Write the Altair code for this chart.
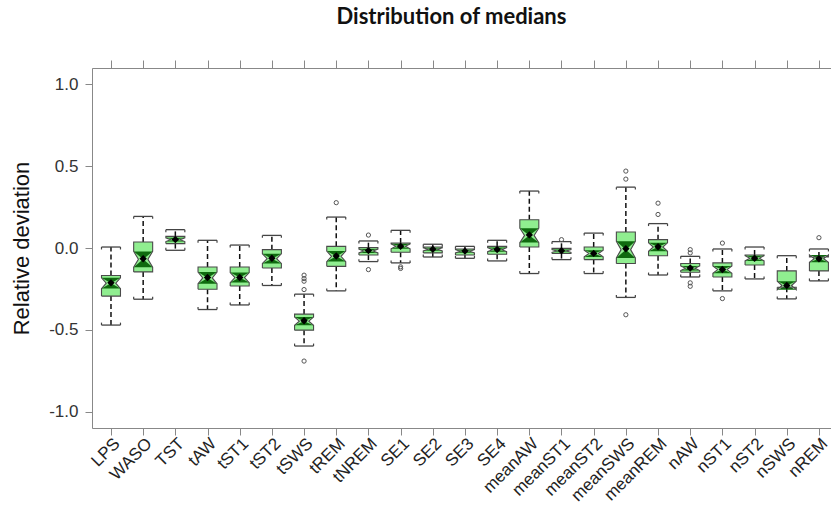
import math
import altair as alt
import pandas as pd

cats = ["LPS", "WASO", "TST", "tAW", "tST1", "tST2", "tSWS", "tREM", "tNREM",
        "SE1", "SE2", "SE3", "SE4", "meanAW", "meanST1", "meanST2", "meanSWS",
        "meanREM", "nAW", "nST1", "nST2", "nSWS", "nREM"]
whisk_hi = [0.006, 0.193, 0.112, 0.047, 0.018, 0.077, -0.282, 0.189, 0.043,
            0.108, 0.023, 0.010, 0.047, 0.348, 0.039, 0.091, 0.372,
            0.149, -0.051, -0.006, 0.006, -0.047, -0.006]
q3 = [-0.168, 0.037, 0.071, -0.116, -0.116, -0.010, -0.404, 0.010, 0.002,
      0.030, 0.006, -0.006, 0.010, 0.173, -0.002, 0.006, 0.098,
      0.051, -0.095, -0.091, -0.043, -0.140, -0.055]
med = [-0.215, -0.069, 0.051, -0.183, -0.181, -0.065, -0.447, -0.051, -0.018,
       0.010, -0.008, -0.020, -0.010, 0.077, -0.018, -0.034, -0.010,
       0.006, -0.124, -0.132, -0.063, -0.229, -0.065]
q1 = [-0.294, -0.146, 0.027, -0.252, -0.232, -0.122, -0.502, -0.112, -0.043,
      -0.026, -0.030, -0.043, -0.038, 0.006, -0.034, -0.071, -0.095,
      -0.047, -0.148, -0.177, -0.104, -0.240, -0.140]
whisk_lo = [-0.471, -0.313, -0.014, -0.376, -0.348, -0.229, -0.599, -0.262, -0.083,
            -0.091, -0.055, -0.063, -0.079, -0.156, -0.071, -0.156, -0.302,
            -0.165, -0.177, -0.262, -0.189, -0.311, -0.201]
means = [-0.213, -0.066, 0.052, -0.180, -0.180, -0.063, -0.445, -0.049, -0.016,
         0.011, -0.008, -0.019, -0.009, 0.080, -0.017, -0.033, -0.005,
         0.008, -0.122, -0.131, -0.063, -0.229, -0.066]
out_cat = ["tSWS", "tSWS", "tSWS", "tSWS", "tSWS",
           "tREM", "tNREM", "tNREM", "SE1", "SE1",
           "meanST1", "meanSWS", "meanSWS", "meanSWS", "meanREM", "meanREM",
           "nAW", "nAW", "nAW", "nAW", "nST1", "nST1", "nREM"]
out_val = [-0.166, -0.187, -0.203, -0.254, -0.691,
           0.277, 0.079, -0.132, -0.115, -0.125,
           0.051, 0.470, 0.421, -0.408, 0.274, 0.205,
           -0.010, -0.030, -0.213, -0.234, 0.030, -0.309, 0.063]
n_obs = 36  # per-variable sample size used for the notch width (R notch rule)

HW = 0.295  # half box width in category units
TICK = 0.015

fill_rows, glass_rows, line_rows = [], [], []
wh_rows, cap_rows, end_rows, mean_rows = [], [], [], []
for i, c in enumerate(cats):
    notch = 1.58 * (q3[i] - q1[i]) / math.sqrt(n_obs)
    nlo, nhi = med[i] - notch, med[i] + notch
    L, R = i - HW, i + HW
    for x, y2 in [(L, nlo), (i - HW / 2, med[i]), (i + HW / 2, med[i]), (R, nlo)]:
        fill_rows.append({"piece": c + "_lo", "x": x, "y": q1[i], "y2": y2})
    for x, y in [(L, nhi), (i - HW / 2, med[i]), (i + HW / 2, med[i]), (R, nhi)]:
        fill_rows.append({"piece": c + "_hi", "x": x, "y": y, "y2": q3[i]})
    for x, y2 in [(L, nlo), (i, med[i]), (R, nlo)]:
        glass_rows.append({"piece": c + "_lo", "x": x, "y": nlo, "y2": y2})
    for x, y in [(L, nhi), (i, med[i]), (R, nhi)]:
        glass_rows.append({"piece": c + "_hi", "x": x, "y": y, "y2": nhi})
    outline = [(L, q1[i]), (L, nlo), (i - HW / 2, med[i]), (L, nhi), (L, q3[i]),
               (R, q3[i]), (R, nhi), (i + HW / 2, med[i]), (R, nlo), (R, q1[i]),
               (L, q1[i])]
    for k, (x, y) in enumerate(outline):
        line_rows.append({"box": c, "k": k, "x": x, "y": y})
    wh_rows.append({"x": i, "y": q3[i], "y2": whisk_hi[i]})
    wh_rows.append({"x": i, "y": q1[i], "y2": whisk_lo[i]})
    cap_rows.append({"xa": L, "xb": R, "y": whisk_hi[i]})
    cap_rows.append({"xa": L, "xb": R, "y": whisk_lo[i]})
    for xe in (L, R):
        end_rows.append({"x": xe, "y": whisk_hi[i], "y2": whisk_hi[i] - TICK})
        end_rows.append({"x": xe, "y": whisk_lo[i], "y2": whisk_lo[i] + TICK})
    mean_rows.append({"x": i, "y": means[i]})

out_df = pd.DataFrame({"x": [cats.index(c) for c in out_cat], "y": out_val})

xscale = alt.Scale(domain=[-0.59, 22.375], nice=False, zero=False)
yscale = alt.Scale(domain=[-1.1, 1.1], nice=False, zero=False)

lab_expr = "[" + ",".join("'%s'" % c for c in cats) + "][datum.value]"
x_axis = alt.Axis(values=list(range(len(cats))), labelExpr=lab_expr, title=None,
                  grid=False, labelAngle=-45, labelAlign="right", labelBaseline="top",
                  labelFontSize=17, labelFont="Liberation Sans", labelColor="#222222",
                  labelPadding=0, tickSize=7, tickColor="#888888", domainColor="#888888",
                  labelOverlap=False, labelBound=False, labelFlush=False)
x_top = alt.Axis(values=list(range(len(cats))), orient="top", labels=False, title=None,
                 grid=False, tickSize=8, tickColor="#888888", domainColor="#888888")
y_axis = alt.Axis(values=[-1.0, -0.5, 0.0, 0.5, 1.0],
                  labelExpr="replace(format(datum.value, '.1f'), '\u2212', '-')",
                  title="Relative deviation", titleFontSize=22, titleFont="Liberation Sans",
                  titleFontWeight="normal", titleColor="#111111", titlePadding=15,
                  labelFontSize=17, labelFont="Liberation Sans", labelColor="#333333",
                  labelPadding=7, tickSize=7, tickColor="#888888", domainColor="#888888",
                  grid=False)

whisk = alt.Chart(pd.DataFrame(wh_rows)).mark_rule(
    color="#111111", strokeWidth=1.5, strokeDash=[5, 3]).encode(
    x=alt.X("x:Q", scale=xscale, axis=x_axis),
    y=alt.Y("y:Q", scale=yscale, axis=y_axis), y2="y2")

caps = alt.Chart(pd.DataFrame(cap_rows)).mark_rule(color="#444444", strokeWidth=1.3).encode(
    x=alt.X("xa:Q", scale=xscale, axis=x_top), x2="xb",
    y=alt.Y("y:Q", scale=yscale))

ends = alt.Chart(pd.DataFrame(end_rows)).mark_rule(color="#444444", strokeWidth=1.2).encode(
    x=alt.X("x:Q", scale=xscale, axis=None), y=alt.Y("y:Q", scale=yscale), y2="y2")

fills = alt.Chart(pd.DataFrame(fill_rows)).mark_area(
    color="#90EE90", opacity=1, interpolate="linear").encode(
    x=alt.X("x:Q", scale=xscale, axis=None),
    y=alt.Y("y:Q", scale=yscale), y2="y2", detail="piece:N")

glass = alt.Chart(pd.DataFrame(glass_rows)).mark_area(
    color="#0f6a0f", opacity=1, interpolate="linear").encode(
    x=alt.X("x:Q", scale=xscale, axis=None),
    y=alt.Y("y:Q", scale=yscale), y2="y2", detail="piece:N")

outline = alt.Chart(pd.DataFrame(line_rows)).mark_line(
    color="#4a4a4a", strokeWidth=1.1, interpolate="linear").encode(
    x=alt.X("x:Q", scale=xscale, axis=None),
    y=alt.Y("y:Q", scale=yscale), detail="box:N", order="k:Q")

mean_pts = alt.Chart(pd.DataFrame(mean_rows)).mark_point(
    shape="diamond", filled=True, color="#000000", size=55, opacity=1).encode(
    x=alt.X("x:Q", scale=xscale, axis=None), y=alt.Y("y:Q", scale=yscale))

outl = alt.Chart(out_df).mark_point(
    shape="circle", filled=False, color="#555555", size=18, strokeWidth=1, opacity=1).encode(
    x=alt.X("x:Q", scale=xscale, axis=None), y=alt.Y("y:Q", scale=yscale))

chart = alt.layer(whisk, caps, ends, fills, glass, outline, mean_pts, outl).resolve_axis(
    x="independent").properties(
    width=739, height=360,
    title=alt.TitleParams("Distribution of medians", font="Lato", fontSize=22,
                          fontWeight="bold", color="#111111", offset=31, dx=-10),
    autosize=alt.AutoSizeParams(type="none"),
    padding={"left": 92, "top": 68, "right": 0, "bottom": 80},
).configure_view(stroke=None).configure(background="white")

chart.save("out.html", embed_options={"renderer": "svg", "actions": False})
